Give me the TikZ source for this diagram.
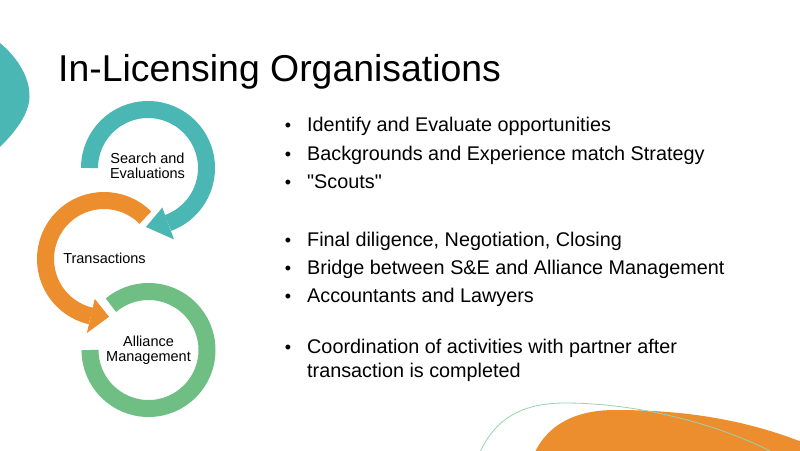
\documentclass[tikz,border=0pt]{standalone}
\usepackage{fontspec}
\setmainfont{Liberation Sans}

\definecolor{ringteal}{RGB}{75,183,181}
\definecolor{ringorange}{RGB}{236,141,46}
\definecolor{ringgreen}{RGB}{111,190,131}
\definecolor{swoosh}{RGB}{150,212,172}

\tikzset{
    ring/.style={line width=17pt},
    ringtext/.style={align=center, inner sep=0pt, font=\fontsize{14.5}{14.5}\selectfont},
    bulletdot/.style={anchor=base, inner sep=0pt, font=\fontsize{18}{22}\selectfont},
    itemtext/.style={anchor=base west, inner sep=0pt, font=\fontsize{19.8}{22}\selectfont}
}

\begin{document}
\begin{tikzpicture}[x=1pt, y=-1pt]

% page
\useasboundingbox (0,0) rectangle (800,450);
\fill[white] (0,0) rectangle (800,450);

% corner shapes
\fill[ringteal] (0,43) .. controls (18,58) and (30,78) .. (29.5,97) .. controls (29,115) and (14,133) .. (0,147) -- cycle;
\fill[ringorange] (535,452) .. controls (548,425) and (575,410) .. (615,410) .. controls (680,410) and (740,418) .. (802,442) -- (802,452) -- cycle;
\draw[swoosh, line width=0.8pt] (480,452) .. controls (495,420) and (520,403) .. (565,403) .. controls (640,403) and (720,425) .. (772,452);

% title
\node[anchor=base west, inner sep=0pt, font=\fontsize{37.4}{40}\selectfont] (title) at (58,81.7) {In-Licensing Organisations};

% ring centres
\coordinate (se) at (148,168);
\coordinate (tr) at (104,259);
\coordinate (am) at (148.5,350);

% ring arrows
\draw[ring, ringgreen] (am) ++(-180:58.5) arc (-180:-490:58.5);

\draw[ring, ringorange] (tr) ++(-45:58.5) arc (-45:-257:58.5);
\fill[ringorange, shift={(tr)}] (-257:41) -- (-275:58) -- (-257:76) -- cycle;

\draw[ring, ringteal] (se) ++(-180:58.5) arc (-180:70:58.5);
\fill[ringteal, shift={(se)}] (70:42) -- (92:59) -- (70:76) -- cycle;

% ring labels
\node[ringtext] (search) at (147.5,166) {Search and\\Evaluations};
\node[ringtext, anchor=base] (trans) at (104.5,263) {Transactions};
\node[ringtext] (alliance) at (148.5,350) {Alliance\\Management};

% bullet list
\foreach \y/\txt [count=\i] in {131.7/Identify and Evaluate opportunities,
        160/Backgrounds and Experience match Strategy,
        188.3/{\textquotedbl Scouts\textquotedbl},
        246.7/{Final diligence, Negotiation, Closing},
        274/Bridge between S\&E and Alliance Management,
        302.7/Accountants and Lawyers,
        353.3/Coordination of activities with partner after} {
    \node[bulletdot] (dot\i) at (288,\y) {\textbullet};
    \node[itemtext] (item\i) at (307,\y) {\txt};
}
\node[itemtext] (item7b) at (307,377.7) {transaction is completed};

\end{tikzpicture}
\end{document}
